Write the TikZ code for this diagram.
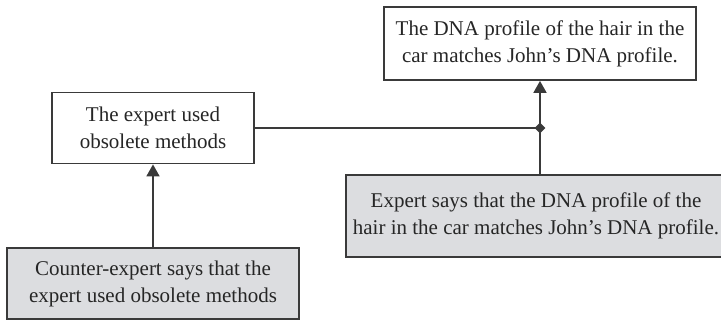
\documentclass[tikz,border=0pt]{standalone}
\usepackage{fontspec}
\setmainfont{Liberation Serif}
\usetikzlibrary{positioning, arrows.meta, shapes.geometric, calc}
\definecolor{boxline}{HTML}{3A3A3A}
\definecolor{datafill}{HTML}{DCDDE0}
\tikzset{
    claimbox/.style={draw=boxline, line width=1.8pt, fill=white, align=center,
      font=\fontsize{21}{27}\selectfont, text=black!85, inner sep=0pt},
    databox/.append style={claimbox, fill=datafill},
    link/.style={draw=boxline, line width=1.8pt},
    support/.style={link, -{Triangle[width=13pt,length=12pt]}},
}

\begin{document}
\begin{tikzpicture}[x=1pt, y=-1pt]
    \useasboundingbox (0,0) rectangle (721,321);

    \node[claimbox, minimum width=312pt, minimum height=73pt] (dna) at (540,43.5)
      {The DNA profile of the hair in the\\car matches John's DNA profile.};
    \node[claimbox, minimum width=202pt, minimum height=71pt] (obsolete) at (153,128)
      {The expert used\\obsolete methods};
    \node[databox, minimum width=380pt, minimum height=82pt] (expert) at (536,216)
      {Expert says that the DNA profile of the\\hair in the car matches John's DNA profile.};
    \node[databox, minimum width=292pt, minimum height=71pt] (counter) at (153,283.5)
      {Counter-expert says that the\\expert used obsolete methods};

    \coordinate (join) at (dna.south |- obsolete.east);

    \draw[support] (counter.north -| obsolete.south) -- (obsolete.south);
    \draw[support] (expert.north -| join) -- (dna.south);
    \draw[link] (obsolete.east) -- (join);
    \node[diamond, fill=boxline, inner sep=0pt, minimum size=11pt] at (join) {};
\end{tikzpicture}
\end{document}
